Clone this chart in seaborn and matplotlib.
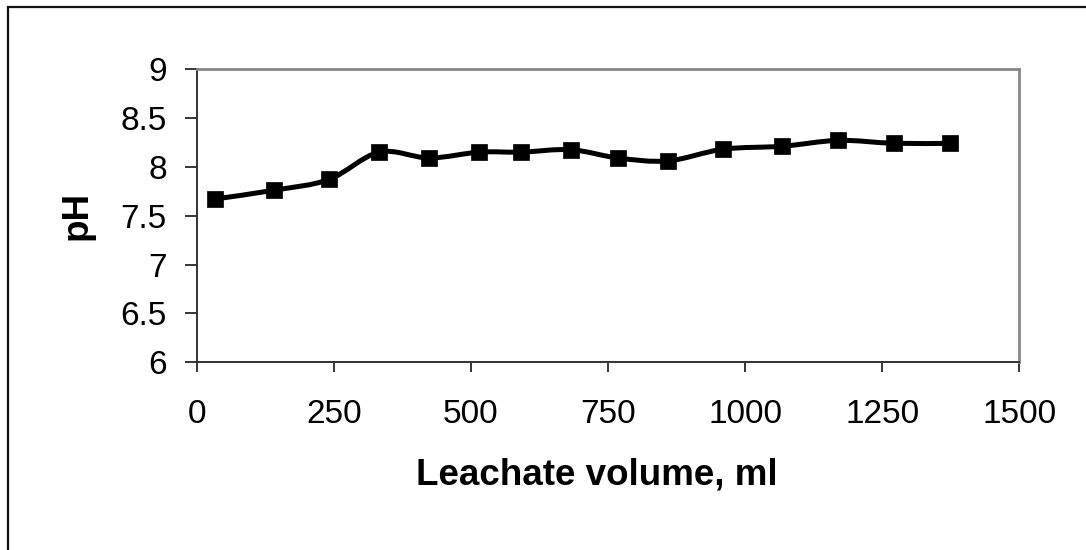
import matplotlib
matplotlib.use("Agg")
import matplotlib.pyplot as plt
import seaborn as sns
import numpy as np
import pandas as pd
from matplotlib.path import Path
from matplotlib.patches import PathPatch, Rectangle

# values
volume_ml = [33, 141, 241, 333, 424, 515, 591, 682, 768, 859, 960, 1068, 1170, 1272, 1374]
ph_values = [7.67, 7.76, 7.87, 8.15, 8.09, 8.15, 8.15, 8.175, 8.09, 8.06, 8.18, 8.21, 8.27, 8.24, 8.24]
x_ticks = [0, 250, 500, 750, 1000, 1250, 1500]
y_ticks = [6, 6.5, 7, 7.5, 8, 8.5, 9]

df = pd.DataFrame({"Leachate volume, ml": volume_ml, "pH": ph_values})

sns.set_theme(style="white")
plt.rcParams['font.family'] = ['Liberation Sans', 'DejaVu Sans']
plt.rcParams['text.color'] = 'black'
plt.rcParams['axes.labelcolor'] = 'black'
plt.rcParams['xtick.color'] = 'black'
plt.rcParams['ytick.color'] = 'black'

fig = plt.figure(figsize=(10.86, 5.5), dpi=100)
ax = fig.add_axes([0.1811, 0.3413, 0.7575, 0.5332])

# smooth line like excel's "smoothed line" (bezier through the points)
def smooth_path(xs, ys):
    pts = np.column_stack([xs, ys]).astype(float)
    n = len(pts)
    verts = [pts[0]]
    codes = [Path.MOVETO]
    for i in range(n - 1):
        p0 = pts[i - 1] if i > 0 else pts[i]
        p1 = pts[i]
        p2 = pts[i + 1]
        p3 = pts[i + 2] if i + 2 < n else pts[i + 1]
        c1 = p1 + (p2 - p0) / 6.0
        c2 = p2 - (p3 - p1) / 6.0
        verts += [c1, c2, p2]
        codes += [Path.CURVE4] * 3
    return Path(verts, codes)

ax.add_patch(PathPatch(smooth_path(df["Leachate volume, ml"], df["pH"]),
                       facecolor="none", edgecolor="black", lw=3.6, zorder=2))

sns.scatterplot(data=df, x="Leachate volume, ml", y="pH", marker="s", s=135,
                color="black", edgecolor="black", linewidth=0.5, ax=ax, zorder=3)

ax.set_xlim(0, 1500)
ax.set_ylim(6, 9)
ax.set_xticks(x_ticks)
ax.set_yticks(y_ticks)
ax.set_xticklabels([str(t) for t in x_ticks])
ax.set_yticklabels([f"{t:g}" for t in y_ticks])

ax.tick_params(axis="x", direction="out", length=7.5, width=1.1,
               labelsize=24, pad=19, bottom=True)
ax.tick_params(axis="y", direction="out", length=8.5, width=1.1,
               labelsize=24, pad=13, left=True)

for side in ["left", "bottom"]:
    ax.spines[side].set_color("#333333")
    ax.spines[side].set_linewidth(1.4)
for side in ["top", "right"]:
    ax.spines[side].set_color("#888888")
    ax.spines[side].set_linewidth(2.0)

ax.set_xlabel("Leachate volume, ml", fontsize=26.5, fontweight="bold")
ax.set_ylabel("pH", fontsize=26.5, fontweight="bold")
ax.xaxis.set_label_coords(0.486, -0.385)
ax.xaxis.label.set_va("center")
ax.yaxis.set_label_coords(-0.1455, 0.5)
ax.yaxis.label.set_va("center")
ax.yaxis.label.set_ha("center")

# outer chart border, cut off on the right and bottom
fig.patches.append(Rectangle((8 / 1086, -0.1), 1.2, 1.1 - 7 / 550,
                             transform=fig.transFigure, fill=False,
                             edgecolor="#111111", lw=1.6))

fig.savefig("out.png", dpi=100)
